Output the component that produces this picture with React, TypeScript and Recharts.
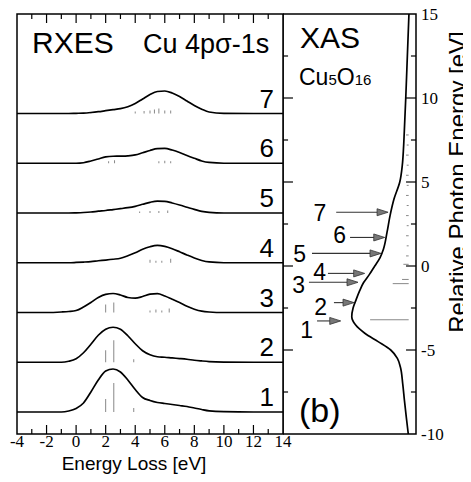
import React from "react";
import {
  ComposedChart,
  Line,
  XAxis,
  YAxis,
  ReferenceLine,
  ReferenceArea,
  Customized,
  Label,
} from "recharts";

const SANS = '"Liberation Sans", Arial, Helvetica, sans-serif';
const SERIF = '"Liberation Serif", "Times New Roman", Times, serif';

// RXES (Cu 4p sigma - 1s), energy loss grid in eV
const energyLoss = [-4, -2, -1, -0.5, 0, 0.5, 1, 1.5, 2, 2.5, 3, 3.5, 4, 4.5, 5, 5.5, 6, 6.5, 7, 7.5, 8, 8.5, 9, 10, 12, 14];
const rxes1 = [0, 0, 0, 1, 3.5, 9, 20, 32, 41, 43, 40, 32, 22.5, 14.5, 11.5, 9.5, 8.5, 7.5, 6.5, 5.5, 4, 2.5, 1.2, 0.3, 0, 0];
const rxes2 = [0, 0, 0, 1, 3.5, 9.5, 18, 27, 33, 35, 33, 26.5, 18.5, 11.5, 7.5, 5.5, 5, 4.3, 3.7, 3, 2, 1.3, 0.7, 0.2, 0, 0];
const rxes3 = [0, 0, 0.5, 1, 2, 5.5, 10, 15, 18.2, 19, 17.5, 15, 14.3, 16, 18.3, 18.8, 16.5, 13.3, 10, 6.2, 3.3, 1.3, 0.5, 0, 0, 0];
const rxes4 = [0, 0, 0, 0, 0.3, 0.7, 1.2, 2, 2.7, 3.5, 4.5, 7, 10, 13.5, 16, 17.3, 16.3, 14, 11, 7.8, 4.8, 2.3, 0.8, 0, 0, 0];
const rxes5 = [0, 0, 0, 0, 0.2, 0.5, 1, 1.8, 2.5, 3.4, 4.3, 5.3, 6.7, 8.7, 10.7, 11.9, 11.7, 10, 8, 5.8, 3.6, 1.6, 0.6, 0, 0, 0];
const rxes6 = [0, 0, 0, 0, 0, 0.5, 2.2, 4.3, 6.3, 7, 7.1, 7.4, 8.3, 10.5, 12.8, 14.6, 14.8, 13.2, 10.8, 7.8, 5, 2.3, 0.8, 0, 0, 0];
const rxes7 = [0, 0, 0, 0, 0.2, 0.4, 1, 1.8, 2.8, 3.8, 4.8, 6.8, 10, 14.5, 19, 22, 22.5, 20.5, 17, 12.5, 8, 4.3, 1.5, 0.2, 0, 0];
const rxesSpectra = [rxes1, rxes2, rxes3, rxes4, rxes5, rxes6, rxes7];

// stick spectra under each RXES curve: [energy loss, intensity]
const sticks1 = [[2.0, 13], [2.55, 29], [3.9, 4]];
const sticks2 = [[2.0, 12], [2.55, 22], [3.9, 3]];
const sticks3 = [[2.0, 8], [2.55, 10], [5.0, 2], [5.4, 3], [5.8, 2], [6.3, 4]];
const sticks4 = [[5.0, 3], [5.4, 2], [5.8, 2], [6.4, 4]];
const sticks5 = [[4.3, 1.5], [5.0, 2], [5.6, 2], [6.2, 2.5]];
const sticks6 = [[2.2, 2], [2.6, 3], [5.6, 2], [6.0, 2.5], [6.4, 2]];
const sticks7 = [[1.0, 1.5], [4.0, 2], [4.6, 2.5], [5.0, 3], [5.3, 4], [5.6, 5], [6.0, 3], [6.4, 3]];
const rxesSticks = [sticks1, sticks2, sticks3, sticks4, sticks5, sticks6, sticks7];

const lossTicks = [-4, -2, 0, 2, 4, 6, 8, 10, 12, 14];
const lossMinor = [-3, -1, 1, 3, 5, 7, 9, 11, 13];

// XAS (Cu5O16)
const photonEnergy = [15, 12.5, 10, 8, 7, 6, 5, 4, 3, 2, 1, 0.5, 0, -0.5, -1, -1.5, -2, -2.5, -3, -3.5, -4, -4.5, -5, -5.5, -6, -7, -8, -9, -10];
const xasIntensity = [0.053, 0.065, 0.077, 0.088, 0.094, 0.103, 0.122, 0.165, 0.195, 0.218, 0.245, 0.27, 0.31, 0.35, 0.395, 0.425, 0.45, 0.473, 0.483, 0.455, 0.385, 0.285, 0.19, 0.14, 0.118, 0.1, 0.087, 0.073, 0.058];
const xasStickE = [-3.2, -1.05, -0.8, 0.1, 0.6, 1.2, 1.8, 2.4, 3.0, 3.6, 4.2, 4.8, 5.4, 6.0, 6.6, 7.2, 7.8];
const xasStickLen = [0.29, 0.12, 0.05, 0.04, 0.02, 0.015, 0.02, 0.015, 0.02, 0.015, 0.02, 0.015, 0.02, 0.015, 0.02, 0.015, 0.02];

const photonTicks = [15, 10, 5, 0, -5, -10];
const photonMajor = [10, 5, 0, -5];
const photonMinor = [12.5, 7.5, 2.5, -2.5, -7.5];

// arrows marking excitation energies 1..7
const arrowLabels = ["1", "2", "3", "4", "5", "6", "7"];
const arrowEnergy = [-3.27, -2.18, -0.97, -0.44, 0.75, 1.7, 3.2];
const arrowFrom = [0.744, 0.617, 0.805, 0.662, 0.782, 0.496, 0.6];
const arrowTo = [0.566, 0.466, 0.436, 0.386, 0.263, 0.235, 0.21];

const BASE0 = 0.44;
const STEP = 0.995;
const AMP = 1 / 50;
const baseOf = (i: number) => BASE0 + STEP * i;

const rxesData = energyLoss.map((x, j) => {
  const row: Record<string, number> = { x };
  rxesSpectra.forEach((s, i) => {
    row[`s${i + 1}`] = baseOf(i) + s[j] * AMP;
  });
  return row;
});

const xasData = photonEnergy.map((e, i) => ({ e, xas: xasIntensity[i] }));
const XAS_BASE = 0.055;

const labelGap = [4, 7, 4, 2, 6, 4, 10];
const labelDy = [17, 12, 11, 7, 9, 6, 9];

const makeArrow = (i: number) => (p: any) => {
  const { x1, y1, x2, y2 } = p;
  const head = 11;
  return (
    <g>
      <line x1={x1} y1={y1} x2={x2 - head + 1} y2={y2} stroke="#333" strokeWidth={1.1} />
      <polygon
        points={`${x2},${y2} ${x2 - head},${y2 - 3.5} ${x2 - head},${y2 + 3.5}`}
        fill="#777"
        stroke="#333"
        strokeWidth={0.8}
      />
      <text
        x={x1 - labelGap[i]}
        y={y1 + labelDy[i]}
        textAnchor="end"
        fontFamily={SANS}
        fontSize={23}
        fill="#000"
      >
        {arrowLabels[i]}
      </text>
    </g>
  );
};

const BottomTick = (p: any) => (
  <text x={p.x} y={p.y} dy="0.71em" textAnchor="middle" fontFamily={SERIF} fontSize={17} fill="#000">
    {p.payload.value}
  </text>
);

const RightTick = (p: any) => (
  <text x={p.x} y={p.y} dy="0.35em" textAnchor="start" fontFamily={SERIF} fontSize={17} fill="#000">
    {p.payload.value}
  </text>
);

const RxesText = () => (
  <g fontFamily={SANS} fill="#000">
    <text x={24} y={53} fontSize={30}>RXES</text>
    <text x={135} y={53} fontSize={27}>Cu 4pσ-1s</text>
    {rxesSpectra.map((_, i) => (
      <text key={i} x={266} y={434 - baseOf(i) * 50 - 6} fontSize={26} textAnchor="end">
        {i + 1}
      </text>
    ))}
  </g>
);

const XasText = () => (
  <g fontFamily={SANS} fill="#000">
    <text x={17} y={48} fontSize={30}>XAS</text>
    <text x={16} y={85} fontSize={23}>
      Cu<tspan fontSize={15}>5</tspan>O<tspan fontSize={15}>16</tspan>
    </text>
    <text x={16} y={422} fontSize={34}>(b)</text>
  </g>
);

export default function App() {
  return (
    <div style={{ position: "relative", top: -8, width: 463, height: 482, background: "#fff" }}>
      <div style={{ position: "absolute", left: 0, top: 0 }}>
        <ComposedChart
          width={300}
          height={482}
          data={rxesData}
          margin={{ top: 14, right: 25, bottom: 0, left: 9 }}
        >
          <XAxis
            dataKey="x"
            type="number"
            domain={[-4, 14]}
            ticks={lossTicks}
            interval={0}
            allowDataOverflow
            tickLine={false}
            axisLine={false}
            tickSize={0}
            tickMargin={1}
            height={48}
            tick={BottomTick}
          >
            <Label
              content={() => (
                <text x={126} y={470} textAnchor="middle" fontFamily={SANS} fontSize={19} fill="#000">
                  Energy Loss [eV]
                </text>
              )}
            />
          </XAxis>
          <YAxis hide type="number" domain={[0, 8.4]} allowDataOverflow />
          <ReferenceArea x1={-4} x2={14} y1={0} y2={8.4} fill="none" stroke="#000" strokeWidth={1.5} />
          {lossTicks.slice(1, -1).map((t) => (
            <ReferenceLine key={`bM${t}`} segment={[{ x: t, y: 0 }, { x: t, y: 0.18 }]} stroke="#000" strokeWidth={1.2} />
          ))}
          {lossTicks.slice(1, -1).map((t) => (
            <ReferenceLine key={`tM${t}`} segment={[{ x: t, y: 8.4 }, { x: t, y: 8.22 }]} stroke="#000" strokeWidth={1.2} />
          ))}
          {lossMinor.map((t) => (
            <ReferenceLine key={`bm${t}`} segment={[{ x: t, y: 0 }, { x: t, y: 0.1 }]} stroke="#000" strokeWidth={1.2} />
          ))}
          {lossMinor.map((t) => (
            <ReferenceLine key={`tm${t}`} segment={[{ x: t, y: 8.4 }, { x: t, y: 8.3 }]} stroke="#000" strokeWidth={1.2} />
          ))}
          {rxesSticks.map((set, i) =>
            set.map(([e, h], k) => (
              <ReferenceLine
                key={`st${i}-${k}`}
                segment={[{ x: e, y: baseOf(i) }, { x: e, y: baseOf(i) + h * AMP }]}
                stroke="#888"
                strokeWidth={1}
              />
            ))
          )}
          {rxesSpectra.map((_, i) => (
            <Line
              key={`s${i}`}
              dataKey={`s${i + 1}`}
              type="monotone"
              stroke="#000"
              strokeWidth={1.7}
              dot={false}
              isAnimationActive={false}
            />
          ))}
          <Customized component={RxesText} />
        </ComposedChart>
      </div>
      <div style={{ position: "absolute", left: 275, top: 0 }}>
        <ComposedChart
          layout="vertical"
          width={188}
          height={482}
          data={xasData}
          margin={{ top: 14, right: 0, bottom: 48, left: 0 }}
        >
          <XAxis type="number" hide domain={[0, 1]} reversed allowDataOverflow />
          <YAxis
            type="number"
            dataKey="e"
            orientation="right"
            reversed
            domain={[-10, 15]}
            ticks={photonTicks}
            interval={0}
            allowDataOverflow
            width={55}
            tickLine={false}
            axisLine={false}
            tickSize={0}
            tickMargin={5}
            tick={RightTick}
          >
            <Label
              content={() => (
                <text
                  x={183}
                  y={182}
                  transform="rotate(-90 183 182)"
                  textAnchor="middle"
                  fontFamily={SANS}
                  fontSize={24}
                  fill="#000"
                >
                  Relative Photon Energy [eV]
                </text>
              )}
            />
          </YAxis>
          <ReferenceArea x1={0} x2={1} y1={-10} y2={15} fill="none" stroke="#000" strokeWidth={1.5} />
          {photonMajor.map((t) => (
            <ReferenceLine key={`lM${t}`} segment={[{ x: 1, y: t }, { x: 0.925, y: t }]} stroke="#000" strokeWidth={1.2} />
          ))}
          {photonMajor.map((t) => (
            <ReferenceLine key={`rM${t}`} segment={[{ x: 0, y: t }, { x: 0.075, y: t }]} stroke="#000" strokeWidth={1.2} />
          ))}
          {photonMinor.map((t) => (
            <ReferenceLine key={`lm${t}`} segment={[{ x: 1, y: t }, { x: 0.962, y: t }]} stroke="#000" strokeWidth={1.2} />
          ))}
          {photonMinor.map((t) => (
            <ReferenceLine key={`rm${t}`} segment={[{ x: 0, y: t }, { x: 0.038, y: t }]} stroke="#000" strokeWidth={1.2} />
          ))}
          {xasStickE.map((e, k) => (
            <ReferenceLine
              key={`xs${k}`}
              segment={[{ x: XAS_BASE, y: e }, { x: XAS_BASE + xasStickLen[k], y: e }]}
              stroke="#888"
              strokeWidth={1}
            />
          ))}
          <Line
            dataKey="xas"
            type="monotone"
            stroke="#000"
            strokeWidth={1.7}
            dot={false}
            isAnimationActive={false}
          />
          {arrowEnergy.map((e, i) => (
            <ReferenceLine
              key={`ar${i}`}
              segment={[{ x: arrowFrom[i], y: e }, { x: arrowTo[i], y: e }]}
              shape={makeArrow(i)}
            />
          ))}
          <Customized component={XasText} />
        </ComposedChart>
      </div>
    </div>
  );
}
